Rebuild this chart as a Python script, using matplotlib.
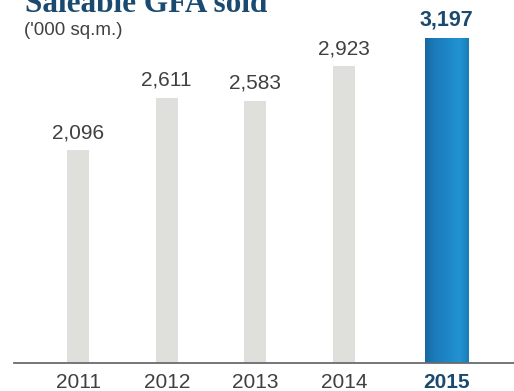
import matplotlib.pyplot as plt
import numpy as np
from matplotlib.colors import LinearSegmentedColormap

years = ["2011", "2012", "2013", "2014", "2015"]
gfa_sold = [2096, 2611, 2583, 2923, 3197]
value_labels = ["2,096", "2,611", "2,583", "2,923", "3,197"]

NAVY = "#1b4a70"
GREY_TEXT = "#404040"

fig = plt.figure(figsize=(5.14, 3.91), dpi=100)
ax = fig.add_axes([14 / 514, 28 / 391, 500 / 514, 363 / 391])

xpos = [0, 1, 2, 3, 4.155]
widths = [0.248, 0.248, 0.248, 0.248, 0.485]
colors = ["#dfe0db"] * 4 + ["#1d86c6"]

bars = ax.bar(xpos, gfa_sold, width=widths, color=colors, zorder=2)

# gradient fill for the highlighted year
hl = bars[-1]
grad = LinearSegmentedColormap.from_list(
    "blue_bar", ["#17679f", "#1b7bba", "#1d82c2", "#1f8acb", "#2293d2", "#1a7bb8"]
)
x0 = hl.get_x()
img = ax.imshow(
    np.linspace(0, 1, 256).reshape(1, -1),
    cmap=grad,
    aspect="auto",
    extent=[x0, x0 + hl.get_width(), 0, hl.get_height()],
    zorder=3,
)
img.set_clip_path(hl)

for i, (x, v, lab) in enumerate(zip(xpos, gfa_sold, value_labels)):
    last = i == len(years) - 1
    ax.text(
        x, v + 80, lab,
        ha="center", va="bottom",
        fontsize=15.5 if last else 15,
        fontweight="bold" if last else "normal",
        color=NAVY if last else GREY_TEXT,
        family="Liberation Sans",
    )

ax.set_xlim(-0.722, 4.915)
ax.set_ylim(0, 3576)
ax.set_xticks(xpos)
ax.set_xticklabels(years, family="Liberation Sans", fontsize=15, color=GREY_TEXT)
lbl = ax.get_xticklabels()[-1]
lbl.set_fontweight("bold")
lbl.set_color(NAVY)
ax.tick_params(axis="x", length=0, pad=7)
ax.set_yticks([])

for side in ["top", "right", "left"]:
    ax.spines[side].set_visible(False)
ax.spines["bottom"].set_color("#6b6b6b")
ax.spines["bottom"].set_linewidth(1.3)
ax.spines["bottom"].set_zorder(4)
ax.patch.set_alpha(0)

fig.text(25 / 514, 1 - 12 / 391, "Saleable GFA sold", family="Liberation Serif",
         fontweight="bold", fontsize=22.5, color=NAVY, va="baseline", ha="left")
fig.text(24 / 514, 1 - 35 / 391, "('000 sq.m.)", family="Liberation Sans",
         fontsize=13.5, color=GREY_TEXT, va="baseline", ha="left")

fig.savefig("out.png", dpi=100)
